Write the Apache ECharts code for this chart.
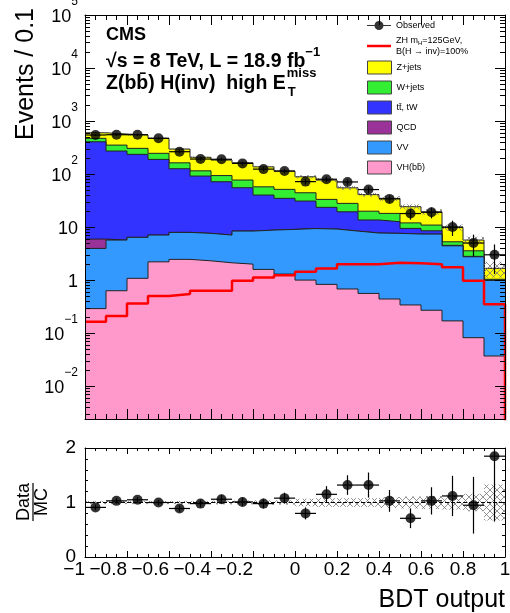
<!DOCTYPE html>
<html>
<head>
<meta charset="utf-8">
<script src="https://cdn.jsdelivr.net/npm/echarts@6/dist/echarts.min.js"></script>
<style>
html, body { margin: 0; padding: 0; background: #fff; }
#chart { width: 510px; height: 613px; }
</style>
</head>
<body>
<div id="chart"></div>
<script>
// BDT output bins (lower edges), width 0.1
const binLow = [-1.0, -0.9, -0.8, -0.7, -0.6, -0.5, -0.4, -0.3, -0.2, -0.1,
                0.0, 0.1, 0.2, 0.3, 0.4, 0.5, 0.6, 0.7, 0.8, 0.9]
const binWidth = 0.1

// events per bin
const observed = [545, 552, 552, 472, 264, 192, 190, 159, 124, 114, 72, 80, 71, 51, 34, 18, 19, 10, 5, 3]
const observedErr = [23, 23, 23, 22, 16, 14, 14, 13, 11, 11, 8.5, 9, 8.4, 7.1, 5.8, 4.2, 4.4, 3.2, 2.2, 1.7]
const vhbb = [0.29, 0.63, 1.08, 2.21, 2.46, 2.31, 2.12, 2.00, 1.59, 1.30, 1.00, 0.83, 0.68, 0.56, 0.44, 0.34, 0.27, 0.17, 0.082, 0.037]
const vv = [3.67, 5.06, 5.32, 4.86, 5.48, 5.30, 4.95, 6.41, 7.18, 7.75, 8.37, 8.34, 7.73, 7.16, 7.17, 7.04, 7.11, 4.26, 2.67, 0.95]
const qcd = [1.98, 0, 0, 0, 0, 0, 0, 0, 0, 0, 0, 0, 0, 0, 0, 0, 0, 0, 0, 0]
const ttbar = [400, 266, 229, 182, 118, 84, 64.5, 46.8, 31.4, 25.8, 21.6, 14.4, 11.0, 5.9, 5.0, 2.06, 1.13, 0.1, 0.05, 0.01]
const wJets = [66, 80, 70, 57, 37, 23.4, 22.1, 21.9, 17.3, 16.6, 13.4, 9.7, 8.6, 6.3, 5.5, 2.56, 2.4, 0.75, 0.77, 0.04]
const zJets = [129, 217, 240, 226, 133, 92, 90, 86, 79.5, 62, 44.5, 43.8, 27, 21, 16.7, 12.2, 8.5, 4.58, 2.12, 0.63]
const signal = [0.163, 0.21, 0.363, 0.499, 0.544, 0.628, 0.628, 0.97, 1.12, 1.24, 1.44, 1.66, 1.98, 1.98, 2.12, 2.07, 2.00, 1.74, 0.97, 0.352]
// relative MC uncertainty (hatched band)
const mcRelErr = [0.03, 0.03, 0.03, 0.03, 0.03, 0.03, 0.035, 0.035, 0.04, 0.04, 0.07, 0.08, 0.08, 0.08, 0.1, 0.11, 0.12, 0.13, 0.16, 0.33]

// Data / MC
const ratio = [0.91, 1.03, 1.05, 1.00, 0.89, 0.98, 1.06, 1.01, 0.98, 1.08, 0.80, 1.15, 1.32, 1.32, 1.03, 0.71, 1.03, 1.12, 0.95, 1.85]
const ratioErr = [0.05, 0.05, 0.05, 0.05, 0.06, 0.07, 0.08, 0.08, 0.09, 0.1, 0.11, 0.15, 0.18, 0.23, 0.2, 0.18, 0.25, 0.37, 0.52, 1.2]

const yMinMain = 0.0024
const yMaxMain = 1e5
const ratioMin = 0
const ratioMax = 2
const fontFam = '"Liberation Sans", Arial, Helvetica, sans-serif'

// stack from bottom to top
const layers = [
    { name: 'VH(bb\u0304)', data: vhbb, color: '#ff99cc' },
    { name: 'VV', data: vv, color: '#3399ff' },
    { name: 'QCD', data: qcd, color: '#993399' },
    { name: 'tt\u0304, tW', data: ttbar, color: '#3333ff' },
    { name: 'W+jets', data: wJets, color: '#33ee33' },
    { name: 'Z+jets', data: zJets, color: '#ffff00' }
]

let running = binLow.map(() => 0)
layers.forEach(l => {
    running = running.map((v, i) => v + l.data[i])
    l.cum = running.slice()
})
const total = running

function stepPoints (vals, closeVal) {
    const pts = binLow.map((x, i) => [x, vals[i]])
    pts.push([1, closeVal === undefined ? vals[vals.length - 1] : closeVal])
    return pts
}

// cross hatch pattern for MC uncertainty
function makeHatch () {
    const c = document.createElement('canvas')
    c.width = 7
    c.height = 7
    const g = c.getContext('2d')
    g.strokeStyle = '#777'
    g.lineWidth = 0.8
    g.beginPath()
    g.moveTo(0, 0); g.lineTo(7, 7)
    g.moveTo(7, 0); g.lineTo(0, 7)
    g.stroke()
    return { image: c, repeat: 'repeat' }
}
const hatchFill = makeHatch()

const measure = document.createElement('canvas').getContext('2d')
function textWidth (txt, font) {
    measure.font = font
    return measure.measureText(txt).width
}

function bandItem (params, api, lo, hi) {
    const y0 = Math.max(api.value(2), lo)
    const y1 = Math.min(api.value(3), hi)
    const p1 = api.coord([api.value(0), y1])
    const p2 = api.coord([api.value(1), y0])
    return {
        type: 'rect',
        shape: { x: p1[0], y: p1[1], width: p2[0] - p1[0], height: p2[1] - p1[1] },
        style: { fill: hatchFill, stroke: null }
    }
}

function errItem (params, api, lo, hi) {
    const xl = api.value(0)
    const xh = api.value(1)
    const y = api.value(2)
    const e = api.value(3)
    const c = api.coord([(xl + xh) / 2, y])
    const top = api.coord([0, Math.min(y + e, hi)])
    const bot = api.coord([0, Math.max(y - e, lo)])
    const l = api.coord([xl, y])
    const r = api.coord([xh, y])
    return {
        type: 'group',
        children: [
            { type: 'line', shape: { x1: c[0], y1: bot[1], x2: c[0], y2: top[1] }, style: { stroke: '#000', lineWidth: 1.2 } },
            { type: 'line', shape: { x1: l[0], y1: c[1], x2: r[0], y2: c[1] }, style: { stroke: '#000', lineWidth: 1.2 } }
        ]
    }
}

function decade (v) {
    const e = Math.log10(v)
    const r = Math.round(e)
    return Math.abs(e - r) > 1e-3 ? null : r
}
function expText (r) {
    return r < 0 ? '\u2212' + (-r) : String(r)
}
// base of the log labels; a transparent exponent keeps "10" left of it
function baseLabel (v) {
    const r = decade(v)
    if (r === null) return ''
    if (r === 0) return '{b|1}'
    if (r === 1) return '{b|10}'
    return '{b|10}{h|' + expText(r) + '}'
}
// exponent of the log labels, raised by an empty second line
function expLabel (v) {
    const r = decade(v)
    if (r === null || r === 0 || r === 1) return ''
    return '{s|' + expText(r) + '}\n{e| }'
}

function minusText (v) {
    const r = Math.round(v * 10) / 10
    return r < 0 ? '\u2212' + String(-r) : String(r)
}

const xRich = {
    n: { fontSize: 19, fontFamily: fontFam, color: '#000' },
    h: { fontSize: 19, fontFamily: fontFam, color: 'rgba(0,0,0,0)' }
}

function xAx (grid, pos, major, minor, label) {
    return {
        type: 'value', gridIndex: grid, position: pos, min: -1, max: 1, interval: 0.2, z: 20,
        axisLine: { onZero: false, lineStyle: { color: '#000', width: 1 } },
        axisTick: { inside: true, length: major, lineStyle: { color: '#000' } },
        minorTick: { show: true, splitNumber: 4, length: minor, lineStyle: { color: '#000' } },
        splitLine: { show: false },
        axisLabel: label || { show: false }
    }
}

// ratio x labels; negative values sit left of their tick
const xLabelMain = {
    margin: 3, color: '#000', fontSize: 19, fontFamily: fontFam,
    showMinLabel: false, showMaxLabel: true,
    formatter: v => {
        const t = minusText(v)
        return v < -1e-9 ? '{n|' + t + '}{h|' + t + '}' : '{n|' + t + '}'
    },
    rich: xRich
}
// only the first label of the ratio x axis
const xLabelFirst = {
    margin: 3, color: '#000', fontSize: 19, fontFamily: fontFam,
    showMinLabel: true, showMaxLabel: false,
    formatter: v => {
        if (v > -1 + 1e-9) return ''
        const t = minusText(v)
        return '{n|' + t + '}{h|' + t + '}'
    },
    rich: xRich
}

function logAx (pos, label, bare) {
    return {
        type: 'log', gridIndex: 0, position: pos, min: yMinMain, max: yMaxMain, z: 20,
        axisLine: { show: !bare, onZero: false, lineStyle: { color: '#000', width: 1 } },
        axisTick: { show: !bare, inside: true, length: 10, lineStyle: { color: '#000' } },
        minorTick: { show: !bare, splitNumber: 9, length: 5, lineStyle: { color: '#000' } },
        splitLine: { show: false },
        axisLabel: label || { show: false }
    }
}

const yLabelBase = {
    margin: 7, color: '#000', formatter: baseLabel,
    showMinLabel: true, showMaxLabel: true, overflow: 'none', lineOverflow: 'none',
    rich: {
        b: { fontSize: 18, fontFamily: fontFam, color: '#000', lineHeight: 12, padding: [4, 0, 0, 0] },
        h: { fontSize: 12, fontFamily: fontFam, color: 'rgba(0,0,0,0)', lineHeight: 12 }
    }
}
const yLabelExp = {
    margin: 7, color: '#000', formatter: expLabel,
    showMinLabel: true, showMaxLabel: true, overflow: 'none', lineOverflow: 'none',
    rich: {
        s: { fontSize: 12, fontFamily: fontFam, color: '#000', lineHeight: 13 },
        e: { fontSize: 6, lineHeight: 26 }
    }
}

function ratioAx (pos, labels) {
    return {
        type: 'value', gridIndex: 1, position: pos, min: ratioMin, max: ratioMax, interval: 1, z: 20,
        axisLine: { onZero: false, lineStyle: { color: '#000', width: 1 } },
        axisTick: { inside: true, length: 6, lineStyle: { color: '#000' } },
        minorTick: { show: true, splitNumber: 5, length: 3, lineStyle: { color: '#000' } },
        splitLine: { show: false },
        axisLabel: labels ? {
            margin: 9, color: '#000', fontSize: 19, fontFamily: fontFam,
            showMinLabel: true, showMaxLabel: true
        } : { show: false }
    }
}

const series = []
// filled stack, top layer first so lower layers paint over it
layers.slice().reverse().forEach((l, k) => {
    series.push({
        name: l.name, type: 'line', xAxisIndex: 0, yAxisIndex: 0, z: 2 + k,
        step: 'end', showSymbol: false, symbol: 'none', silent: true,
        data: stepPoints(l.cum),
        itemStyle: { color: l.color },
        lineStyle: { color: '#222', width: 1 },
        areaStyle: { color: l.color, opacity: 1, origin: 'start' }
    })
})
series.push({
    name: 'ZH', type: 'line', xAxisIndex: 0, yAxisIndex: 0, z: 10,
    step: 'end', showSymbol: false, symbol: 'none', silent: true,
    data: stepPoints(signal, yMinMain / 10),
    itemStyle: { color: '#ff0000' },
    lineStyle: { color: '#ff0000', width: 2.5 }
})
series.push({
    name: 'mcUnc', type: 'custom', xAxisIndex: 0, yAxisIndex: 0, z: 11, silent: true, clip: true,
    renderItem: (p, api) => bandItem(p, api, yMinMain, yMaxMain),
    encode: { x: [0, 1], y: [2, 3] },
    data: binLow.map((x, i) => [x, x + binWidth, total[i] * (1 - mcRelErr[i]), total[i] * (1 + mcRelErr[i])])
})
series.push({
    name: 'obsErr', type: 'custom', xAxisIndex: 0, yAxisIndex: 0, z: 12, silent: true, clip: true,
    renderItem: (p, api) => errItem(p, api, yMinMain, yMaxMain),
    encode: { x: [0, 1], y: 2 },
    data: binLow.map((x, i) => [x, x + binWidth, observed[i], observedErr[i]])
})
series.push({
    name: 'Observed', type: 'scatter', xAxisIndex: 0, yAxisIndex: 0, z: 13, silent: true,
    symbol: 'circle', symbolSize: 10,
    itemStyle: { color: '#000' },
    data: binLow.map((x, i) => [x + binWidth / 2, observed[i]])
})
// ratio panel
series.push({
    name: 'ratioUnc', type: 'custom', xAxisIndex: 2, yAxisIndex: 2, z: 3, silent: true, clip: true,
    renderItem: (p, api) => bandItem(p, api, ratioMin, ratioMax),
    encode: { x: [0, 1], y: [2, 3] },
    data: binLow.map((x, i) => [x, x + binWidth, 1 - mcRelErr[i], 1 + mcRelErr[i]]),
    markLine: {
        silent: true, symbol: 'none', label: { show: false },
        lineStyle: { color: '#000', type: 'dashed', width: 1 },
        data: [{ yAxis: 1 }]
    }
})
series.push({
    name: 'ratioErr', type: 'custom', xAxisIndex: 2, yAxisIndex: 2, z: 5, silent: true, clip: true,
    renderItem: (p, api) => errItem(p, api, ratioMin, ratioMax),
    encode: { x: [0, 1], y: 2 },
    data: binLow.map((x, i) => [x, x + binWidth, ratio[i], ratioErr[i]])
})
series.push({
    name: 'ratio', type: 'scatter', xAxisIndex: 2, yAxisIndex: 2, z: 6, silent: true,
    symbol: 'circle', symbolSize: 10,
    itemStyle: { color: '#000' },
    data: binLow.map((x, i) => [x + binWidth / 2, ratio[i]])
})

const legendText = { fontSize: 9, fontFamily: fontFam, color: '#000' }
const line3 = 'Z(bb\u0304) H(inv)  high E'
const line3Font = 'bold 19.5px ' + fontFam
const line3W = textWidth(line3, line3Font)

const option = {
    animation: false,
    backgroundColor: '#fff',
    grid: [
        { left: 85, top: 15, width: 420, height: 404, outerBoundsMode: 'none' },
        { left: 85, top: 448, width: 420, height: 109, outerBoundsMode: 'none' }
    ],
    xAxis: [
        xAx(0, 'bottom', 10, 5),
        xAx(0, 'top', 10, 5),
        xAx(1, 'bottom', 6, 3, xLabelMain),
        xAx(1, 'top', 6, 3),
        Object.assign(xAx(1, 'bottom', 0, 0, xLabelFirst), { axisLine: { show: false, onZero: false }, axisTick: { show: false }, minorTick: { show: false } })
    ],
    yAxis: [
        logAx('left', null, false),
        logAx('right', null, false),
        ratioAx('left', true),
        ratioAx('right', false),
        logAx('left', yLabelExp, true),
        logAx('left', yLabelBase, true)
    ],
    legend: [
        {
            left: 362, top: 16, itemWidth: 24, itemHeight: 14, selectedMode: false,
            textStyle: legendText,
            data: [{ name: 'Observed', icon: 'path://M0,6.5 H24 V7.5 H0 Z M12,2.5 A4.5,4.5 0 1 1 11.99,2.5 Z', itemStyle: { color: '#000' } }]
        },
        {
            left: 362, top: 30, itemWidth: 24, itemHeight: 14, selectedMode: false,
            textStyle: Object.assign({}, legendText, {
                lineHeight: 11,
                rich: {
                    a: { fontSize: 9, fontFamily: fontFam, color: '#000', lineHeight: 11 },
                    s: { fontSize: 6, fontFamily: fontFam, color: '#000', verticalAlign: 'bottom', lineHeight: 9 }
                }
            }),
            formatter: () => '{a|ZH m}{s|H}{a|=125GeV,}\n{a|B(H \u2192 inv)=100%}',
            data: [{ name: 'ZH', icon: 'path://M0,0 H24 V2.5 H0 Z', itemStyle: { color: '#ff0000' } }]
        },
        {
            left: 362, top: 55.5, orient: 'vertical', itemWidth: 24, itemHeight: 13, itemGap: 6,
            selectedMode: false, textStyle: legendText,
            data: layers.slice().reverse().map(l => ({
                name: l.name, icon: 'rect',
                itemStyle: { color: l.color, borderColor: '#444', borderWidth: 1 }
            }))
        }
    ],
    graphic: [
        {
            type: 'text', x: 26, y: 8, rotation: Math.PI / 2,
            style: { text: 'Events / 0.1', font: '25px ' + fontFam, fill: '#000', align: 'right', verticalAlign: 'middle' }
        },
        {
            type: 'text', x: 505, y: 600,
            style: { text: 'BDT output', font: '25px ' + fontFam, fill: '#000', align: 'right', verticalAlign: 'middle' }
        },
        {
            type: 'group', x: 32, y: 502, rotation: Math.PI / 2,
            children: [
                { type: 'text', x: 0, y: -8, style: { text: 'Data', font: '18px ' + fontFam, fill: '#000', align: 'center', verticalAlign: 'middle' } },
                { type: 'line', shape: { x1: -19, y1: 1, x2: 19, y2: 1 }, style: { stroke: '#000', lineWidth: 1.2 } },
                { type: 'text', x: 0, y: 10, style: { text: 'MC', font: '18px ' + fontFam, fill: '#000', align: 'center', verticalAlign: 'middle' } }
            ]
        },
        {
            type: 'text', x: 106, y: 35,
            style: { text: 'CMS', font: 'bold 18px ' + fontFam, fill: '#000', align: 'left', verticalAlign: 'middle' }
        },
        {
            type: 'text', x: 106, y: 59,
            style: {
                text: '{a|\u221As = 8 TeV, L = 18.9 fb}{s|\u22121}', align: 'left', verticalAlign: 'middle',
                rich: {
                    a: { font: 'bold 19.5px ' + fontFam, fill: '#000', padding: [6, 0, 0, 0] },
                    s: { font: 'bold 13px ' + fontFam, fill: '#000', verticalAlign: 'top' }
                }
            }
        },
        {
            type: 'text', x: 106, y: 84,
            style: { text: line3, font: line3Font, fill: '#000', align: 'left', verticalAlign: 'middle' }
        },
        {
            type: 'text', x: 106 + line3W + 1, y: 73,
            style: { text: 'miss', font: 'bold 13px ' + fontFam, fill: '#000', align: 'left', verticalAlign: 'middle' }
        },
        {
            type: 'text', x: 106 + line3W + 2, y: 92,
            style: { text: 'T', font: 'bold 13px ' + fontFam, fill: '#000', align: 'left', verticalAlign: 'middle' }
        }
    ],
    series: series
}

const chart = echarts.init(document.getElementById('chart'))
chart.setOption(option)
</script>
</body>
</html>
